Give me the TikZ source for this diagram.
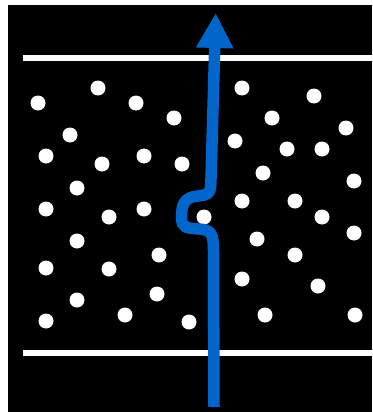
\documentclass[tikz,border=0pt]{standalone}
\usepackage{tikz}
\usetikzlibrary {arrows.meta}
\usepackage[dvipsnames]{xcolor}
\definecolor{flowblue}{RGB}{0,102,204}

\begin{document}
\begin{tikzpicture}[
    x=1pt, y=-1pt,
    particle/.style={
        circle,
        fill=white,        % Plain white disc
        minimum size=15pt, % Size of one particle
        inner sep=0pt      % No padding, so the size stays exact
    },
    wall/.style={draw=white, line width=5.5pt},
    path line/.style={
        draw=flowblue,
        line width=11.5pt,
        -{Triangle[width=35pt,length=35pt]}
    }
]
\useasboundingbox (0,0) rectangle (372,412);
\fill[black] (8,5) rectangle (372,412);

% walls of the channel
\coordinate (top left) at (23,58);
\coordinate (top right) at (372,58);
\coordinate (bottom left) at (23,353);
\coordinate (bottom right) at (372,353);
\draw[wall] (top left) -- (top right);
\draw[wall] (bottom left) -- (bottom right);

% particles, left half
\foreach \px/\py [count=\i] in {
    38/103, 98/88, 136/103, 174/118, 70/135,
    46/156, 102/164, 144/156, 182/164, 77/188,
    46/209, 109/217, 144/209, 77/241, 159/255,
    46/268, 109/269, 77/300, 157/294, 46/321,
    125/315, 189/322}
    \node[particle] (l\i) at (\px,\py) {};

% particles, right half
\foreach \px/\py [count=\i] in {
    242/88, 314/96, 272/118, 346/128, 235/141,
    287/149, 322/149, 263/173, 354/181, 242/201,
    295/201, 322/217, 354/233, 257/239, 295/255,
    242/279, 318/286, 265/315, 355/315}
    \node[particle] (r\i) at (\px,\py) {};

% the particle that the path goes round
\node[particle] (blocker) at (204,217) {};

% the path
\coordinate (start) at (214,407);
\coordinate (tip) at (215.7,13);
\draw[path line] (start) -- (213.5,250)
    .. controls (213.5,232) and (210,230) .. (199,229)
    .. controls (186,228) and (181.5,228) .. (181.5,217)
    .. controls (181.5,205) and (184,197) .. (198,196)
    .. controls (210,195) and (211,192) .. (211,178)
    -- (tip);
\end{tikzpicture}
\end{document}
